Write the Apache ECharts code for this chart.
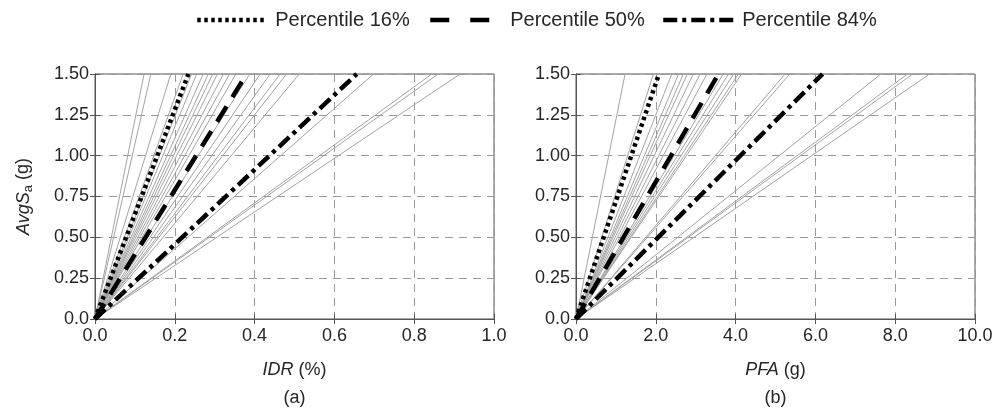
<!DOCTYPE html>
<html>
<head>
<meta charset="utf-8">
<script src="https://cdn.jsdelivr.net/npm/echarts@6/dist/echarts.min.js"></script>
<style>html,body{margin:0;padding:0;background:#fff}#c{width:997px;height:411px}</style>
</head>
<body>
<div id="c"></div>
<script>
// Sa levels at the two ends of each record line (g)
const saPoints = [0, 1.5];
// IDR (%) reached at AvgSa = 1.5 g for each ground-motion record
const idrRecords = [0.123, 0.140, 0.190, 0.221, 0.242, 0.255, 0.271, 0.284, 0.295, 0.307, 0.322, 0.337, 0.353, 0.388, 0.414, 0.439, 0.464, 0.480, 0.512, 0.698, 0.844, 0.860, 0.915];
// PFA (g) reached at AvgSa = 1.5 g for each ground-motion record
const pfaRecords = [1.23, 1.94, 2.40, 2.57, 2.69, 2.79, 2.94, 3.11, 3.28, 3.69, 3.82, 3.95, 4.07, 4.15, 5.24, 5.36, 7.64, 8.31, 8.44, 8.86];
// Percentile lines: value at AvgSa = 1.5 g
const percentileNames = ['Percentile 16%', 'Percentile 50%', 'Percentile 84%'];
const idrPercentiles = [0.234, 0.380, 0.656];
const pfaPercentiles = [2.08, 3.57, 6.18];
// tick settings
const yTicks = {min: 0, max: 1.5, interval: 0.25};
const xIdrTicks = {min: 0, max: 1.0, interval: 0.2};
const xPfaTicks = {min: 0, max: 10, interval: 2};

const txt = '#262626';
const frame = '#555';
const gridLine = {show: true, lineStyle: {color: '#999', type: [8, 6], width: 1}};
const pStyles = [
  {type: [3.5, 3.5], width: 4.5, cap: 'butt'},
  {type: [18, 11], width: 4.5, cap: 'butt'},
  {type: [14, 5, 4, 5], width: 4.5, cap: 'butt'}
];
const legendDash = [[3.5, 3.5], [19, 21], [14, 5, 4, 5]];

function lineData(v) { return [[0, saPoints[0]], [v, saPoints[1]]]; }

const grids = [
  {left: 95, top: 74, width: 399, height: 245, show: true, borderColor: frame, borderWidth: 1},
  {left: 576, top: 74, width: 399, height: 245, show: true, borderColor: frame, borderWidth: 1}
];

function xAx(gi, t, nameRich) {
  return [{
    gridIndex: gi, type: 'value', min: t.min, max: t.max, interval: t.interval,
    axisLine: {show: true, lineStyle: {color: frame}},
    axisTick: {show: true, inside: true, length: 5, lineStyle: {color: frame}},
    axisLabel: {color: txt, fontSize: 18, fontFamily: 'Liberation Sans, Arial', margin: 8,
      formatter: v => v.toFixed(1)},
    splitLine: gridLine,
    name: nameRich, nameLocation: 'middle', nameGap: 42,
    nameTextStyle: {color: txt, fontSize: 18, fontFamily: 'Liberation Sans, Arial',
      rich: {i: {fontStyle: 'italic', fontSize: 18, color: txt, fontFamily: 'Liberation Sans, Arial'}}}
  }, {
    gridIndex: gi, type: 'value', position: 'top', min: t.min, max: t.max, interval: t.interval,
    axisLine: {show: true, lineStyle: {color: frame}},
    axisTick: {show: true, inside: true, length: 5, lineStyle: {color: frame}},
    axisLabel: {show: false}, splitLine: {show: false}
  }];
}
function yAx(gi, withName) {
  const a = {
    gridIndex: gi, type: 'value', min: yTicks.min, max: yTicks.max, interval: yTicks.interval,
    axisLine: {show: true, lineStyle: {color: frame}},
    axisTick: {show: true, inside: true, length: 5, lineStyle: {color: frame}},
    axisLabel: {color: txt, fontSize: 18, fontFamily: 'Liberation Sans, Arial', margin: 6,
      formatter: v => v === 0 ? '0.0' : v.toFixed(2)},
    splitLine: gridLine
  };
  if (withName) {
    a.name = '{i|AvgS}{s|a}{n| (g)}';
    a.nameLocation = 'middle';
    a.nameGap = 60;
    a.nameRotate = 90;
    a.nameTextStyle = {color: txt, fontSize: 18, rich: {
      i: {fontStyle: 'italic', fontSize: 18, color: txt, fontFamily: 'Liberation Sans, Arial'},
      s: {fontSize: 13, color: txt, verticalAlign: 'bottom', padding: [10, 0, 0, 0], fontFamily: 'Liberation Sans, Arial'},
      n: {fontSize: 18, color: txt, fontFamily: 'Liberation Sans, Arial'}
    }};
  }
  return [a, {
    gridIndex: gi, type: 'value', position: 'right', min: yTicks.min, max: yTicks.max, interval: yTicks.interval,
    axisLine: {show: true, lineStyle: {color: frame}},
    axisTick: {show: true, inside: true, length: 5, lineStyle: {color: frame}},
    axisLabel: {show: false}, splitLine: {show: false}
  }];
}

const xAxis = [].concat(xAx(0, xIdrTicks, '{i|IDR} (%)'), xAx(1, xPfaTicks, '{i|PFA} (g)'));
const yAxis = [].concat(yAx(0, true), yAx(1, false));

const series = [];
function grayLines(arr, xi, yi) {
  arr.forEach(v => series.push({
    type: 'line', xAxisIndex: xi, yAxisIndex: yi, data: lineData(v), symbol: 'none',
    lineStyle: {color: '#a3a3a3', width: 1}, silent: true, z: 2, animation: false
  }));
}
grayLines(idrRecords, 0, 0);
grayLines(pfaRecords, 2, 2);
function pLines(arr, xi, yi) {
  arr.forEach((v, k) => series.push({
    type: 'line', name: percentileNames[k], xAxisIndex: xi, yAxisIndex: yi, data: lineData(v), symbol: 'none',
    lineStyle: {color: '#000', width: pStyles[k].width, type: pStyles[k].type, cap: pStyles[k].cap},
    itemStyle: {color: '#000'}, z: 5, animation: false
  }));
}
pLines(idrPercentiles, 0, 0);
pLines(pfaPercentiles, 2, 2);

const legendPos = [{left: 195, w: 67, pad: 6}, {left: 428, w: 59, pad: 16}, {left: 661, w: 74, pad: 0}];
const legend = percentileNames.map((n, k) => ({
  data: [n], left: legendPos[k].left, top: 10, itemWidth: legendPos[k].w, itemHeight: 20, padding: 0,
  selectedMode: false,
  itemStyle: {opacity: 0, borderWidth: 0},
  lineStyle: {width: 4.5, color: '#000', type: legendDash[k], cap: 'butt'},
  textStyle: {color: txt, fontSize: 20, fontFamily: 'Liberation Sans, Arial', padding: [0, 0, 0, legendPos[k].pad]}
}));

const chart = echarts.init(document.getElementById('c'), null, {renderer: 'canvas'});
chart.setOption({
  animation: false,
  backgroundColor: '#fff',
  legend: legend,
  grid: grids,
  xAxis: xAxis,
  yAxis: yAxis,
  series: series,
  title: [
    {text: '(a)', left: 294.5, top: 389, textAlign: 'center', padding: 0,
     textStyle: {color: txt, fontSize: 18, fontWeight: 'normal', fontFamily: 'Liberation Sans, Arial'}},
    {text: '(b)', left: 775.5, top: 389, textAlign: 'center', padding: 0,
     textStyle: {color: txt, fontSize: 18, fontWeight: 'normal', fontFamily: 'Liberation Sans, Arial'}}
  ]
});
</script>
</body>
</html>
